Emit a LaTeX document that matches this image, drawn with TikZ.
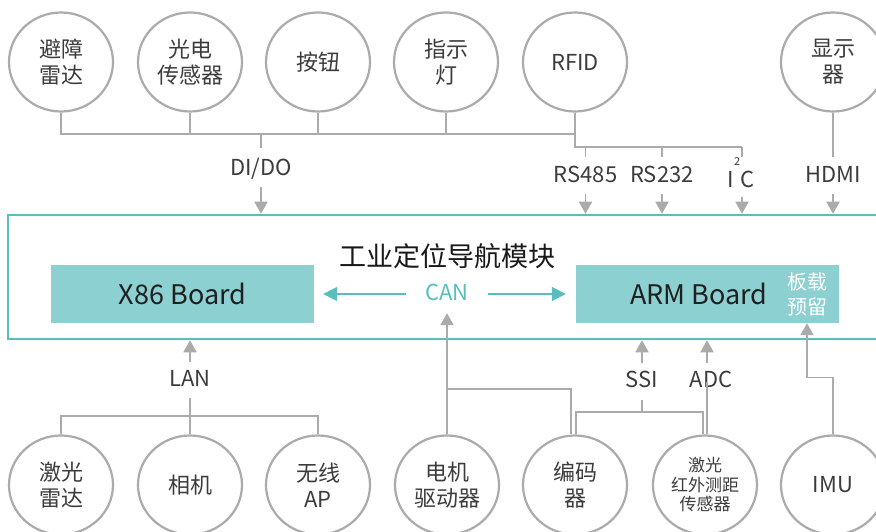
\documentclass[tikz,border=0pt]{standalone}
\usepackage{fontspec}
\setmainfont{Noto Sans CJK SC}
\usetikzlibrary{arrows.meta,shapes.geometric,calc}
\definecolor{tealline}{HTML}{5BBEBE}
\definecolor{tealfill}{HTML}{8DD0D1}
\definecolor{lgray}{HTML}{ABABAB}
\definecolor{txt}{HTML}{3C3C3C}
\begin{document}
\begin{tikzpicture}[x=1pt,y=-1pt,
  dev/.style={ellipse,draw=lgray,line width=2.2pt,minimum width=104pt,minimum height=99pt,
    inner sep=0pt,align=center,font=\fontsize{22}{26}\selectfont,text=txt},
  devsmall/.style={dev,font=\fontsize{17}{19.5}\selectfont},
  lbl/.style={font=\fontsize{22}{24}\selectfont,text=txt,inner sep=1pt,text height=16pt,text depth=4pt},
  wire/.style={draw=lgray,line width=1.8pt},
  garr/.style={wire,-{Triangle[width=13pt,length=12pt]}},
  tarr/.style={draw=tealline,line width=1.8pt,-{Triangle[width=14pt,length=14pt]}},
  board/.style={rectangle,fill=tealfill,minimum width=263pt,minimum height=58pt,inner sep=0pt},
]
\useasboundingbox (0,0) rectangle (876,532);
\fill[white] (0,0) rectangle (876,532);

% main module box
\node[rectangle,draw=tealline,line width=2.5pt,minimum width=878pt,minimum height=124pt,inner sep=0pt] (mod) at (447,277) {};
\node[font=\fontsize{27}{30}\selectfont,text=black!90,inner sep=0pt] (title) at (447,256) {工业定位导航模块};
\node[board] (x86) at (182.5,294) {};
\node[font=\fontsize{27}{30}\selectfont,text=black!88,inner sep=0pt] (x86t) at (182.5,294) {X86 Board};
\node[board] (arm) at (707.5,294) {};
\node[font=\fontsize{27}{30}\selectfont,text=black!88,inner sep=0pt] (armt) at (699,294) {ARM Board};
\node[font=\fontsize{20}{25}\selectfont,text=white,align=center,inner sep=0pt] (resv) at (807,294) {板载\\预留};
\node[lbl,text=tealline] (can) at (447,294) {CAN};
\draw[tarr] ([xshift=-18pt]can.west) -- ([xshift=9pt]x86.east);
\draw[tarr] ([xshift=18pt]can.east) -- ([xshift=-10pt]arm.west);

% top devices
\node[dev] (c1) at (61,62) {避障\\雷达};
\node[dev] (c2) at (190,62) {光电\\传感器};
\node[dev] (c3) at (318,62) {按钮};
\node[dev] (c4) at (446,62) {指示\\灯};
\node[dev] (rfid) at (575,62) {RFID};
\node[dev] (disp) at (833,62) {显示\\器};

% top labels
\node[lbl] (dido) at (261,170) {DI/DO};
\node[lbl] (rs485) at (585.5,176.5) {RS485};
\node[lbl] (rs232) at (662,176.5) {RS232};
\node[lbl] (i2c) at (741,181) {I\raisebox{21pt}{\fontsize{11}{11}\selectfont 2}C};
\node[lbl] (hdmi) at (833,176.5) {HDMI};

\coordinate (tb) at (0,134);
\coordinate (rb) at (0,147);
\coordinate (i2cx) at (742,0);
\draw[wire] (c1.south) -- (c1.south |- tb) -- (rfid.south |- tb);
\draw[wire] (c2.south) -- (c2.south |- tb);
\draw[wire] (c3.south) -- (c3.south |- tb);
\draw[wire] (c4.south) -- (c4.south |- tb);
\draw[wire] (dido.north |- tb) -- ([yshift=11pt]dido.north);
\draw[garr] ([yshift=-6pt]dido.south) -- (dido.south |- mod.north);
\draw[wire] (rfid.south) -- (rfid.south |- rb) -- (i2cx |- rb);
\draw[wire] (rs485.north |- rb) -- ([yshift=8.5pt]rs485.north);
\draw[wire] (rs232.north |- rb) -- ([yshift=8.5pt]rs232.north);
\draw[wire] (i2cx |- rb) -- (i2cx |- 0,157);
\draw[garr] ([yshift=-6pt]rs485.south) -- (rs485.south |- mod.north);
\draw[garr] ([yshift=-6pt]rs232.south) -- (rs232.south |- mod.north);
\draw[garr] (i2cx |- 0,197) -- (i2cx |- mod.north);
\draw[wire] (disp.south) -- ([yshift=8.5pt]hdmi.north);
\draw[garr] ([yshift=-6pt]hdmi.south) -- (hdmi.south |- mod.north);

% bottom devices
\node[dev] (d1) at (61,485) {激光\\雷达};
\node[dev] (d2) at (190,485) {相机};
\node[dev] (d3) at (318,485) {无线\\AP};
\node[dev] (motor) at (447,485) {电机\\驱动器};
\node[dev] (enc) at (575,485) {编码\\器};
\node[devsmall] (ir) at (705,485) {激光\\红外测距\\传感器};
\node[dev] (imu) at (833,485) {IMU};

% bottom labels
\node[lbl] (lan) at (190,380) {LAN};
\node[lbl] (ssi) at (642,381) {SSI};
\node[lbl] (adc) at (711,381) {ADC};

\coordinate (lb) at (0,416);
\draw[wire] (d1.north) -- (d1.north |- lb) -- (d3.north |- lb) -- (d3.north);
\draw[wire] (d2.north) -- ([yshift=-7pt]lan.south);
\draw[garr] ([yshift=7pt]lan.north) -- (lan.north |- mod.south);

\draw[garr] (motor.north) -- ([yshift=-8pt]can.south);
\draw[wire] (motor.north |- 0,389) -| ([xshift=-4pt]enc.north);

\coordinate (sb) at (0,412);
\draw[wire] ([xshift=1pt]enc.north) -- ([xshift=1pt]enc.north |- sb) -- ([xshift=-2pt]ir.north |- sb) -- ([xshift=-2pt]ir.north);
\draw[wire] (ssi.south |- sb) -- ([yshift=-8pt]ssi.south);
\draw[garr] ([yshift=7pt]ssi.north) -- (ssi.north |- mod.south);
\draw[wire] ([xshift=2pt]ir.north) -- ([xshift=2pt]ir.north |- adc.south) -- ++(0,-10);
\draw[garr] ([xshift=2pt]ir.north |- adc.north) ++(0,-7) -- ([xshift=2pt]ir.north |- mod.south);

\draw[garr] (imu.north) -- ++(0,-57) -| (resv.south |- arm.south);
\end{tikzpicture}
\end{document}
